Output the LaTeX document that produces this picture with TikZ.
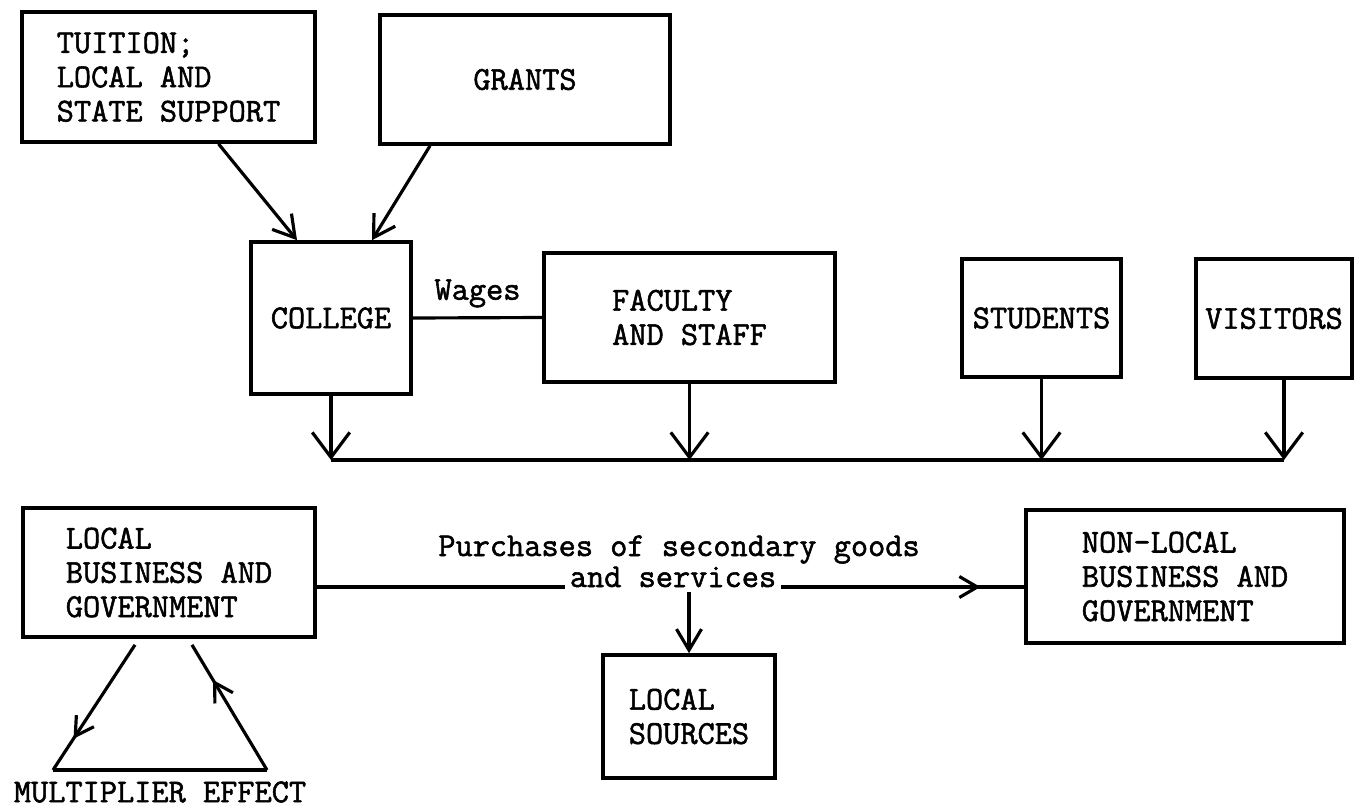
\documentclass[tikz,border=0pt]{standalone}
\usepackage{fontspec}
\setmonofont{Latin Modern Mono}[FakeBold=1.6]
\usetikzlibrary{arrows.meta,decorations.markings}

\begin{document}
\begin{tikzpicture}[x=0.02cm,y=-0.02cm,line width=1.8pt,
  font=\fontsize{19}{19.5}\selectfont\ttfamily]
\tikzstyle block=[draw,line width=2.1pt,align=left,inner sep=0pt]
\tikzstyle tag=[inner sep=2pt]
\tikzstyle bigtip=[-{Straight Barb[length=0.5cm,width=0.75cm]}]
\tikzstyle smalltip=[-{Straight Barb[length=0.42cm,width=0.5cm]}]
\tikzset{directed/.style={postaction={decorate,decoration={markings,
    mark=at position #1 with {\arrow{Straight Barb[length=0.36cm,width=0.42cm]}}}}}}
 \useasboundingbox (0,0) rectangle (1354,808);
 % sources of money
 \node[block,minimum width=5.86cm,minimum height=2.6cm] (tuition) at (168.5,77) {TUITION;\\LOCAL AND\\STATE SUPPORT};
 \node[block,minimum width=5.8cm,minimum height=2.58cm] (grants) at (525,79.5) {GRANTS};
 % spenders
 \node[block,minimum width=3.2cm,minimum height=3.04cm] (college) at (331,318) {COLLEGE};
 \node[block,minimum width=5.82cm,minimum height=2.58cm] (faculty) at (689.5,317.5) {FACULTY\\AND STAFF};
 \node[block,minimum width=3.18cm,minimum height=2.36cm] (students) at (1041.5,318) {STUDENTS};
 \node[block,minimum width=3.12cm,minimum height=2.38cm] (visitors) at (1274,318.5) {VISITORS};
 % receivers
 \node[block,minimum width=5.84cm,minimum height=2.58cm] (localbus) at (169,572.5) {LOCAL\\BUSINESS AND\\GOVERNMENT};
 \node[block,minimum width=6.36cm,minimum height=2.66cm] (nonlocal) at (1185,576.5) {NON-LOCAL\\BUSINESS AND\\GOVERNMENT};
 \node[block,minimum width=3.44cm,minimum height=2.46cm] (sources) at (689,716.5) {LOCAL\\SOURCES};
 \node[tag,anchor=base] (purch) at (679,556) {Purchases of secondary goods};
 \node[tag,anchor=base] (svc) at (673,587) {and services};
 \node[tag] (mult) at (160,792) {MULTIPLIER EFFECT};
 \coordinate (bus) at (0,460);
 \coordinate (mtopl) at ([xshift=-0.68cm,yshift=-0.12cm]localbus.south);
 \coordinate (mtopr) at ([xshift=0.46cm,yshift=-0.12cm]localbus.south);
 \coordinate (mbotl) at (53,770);
 \coordinate (mbotr) at (267,770);

 \draw[smalltip] ([xshift=1cm]tuition.south) -- ([xshift=-0.68cm]college.north);
 \draw[smalltip] ([xshift=-1.9cm]grants.south) -- ([xshift=0.82cm]college.north);
 \draw (college.east) -- node[tag,above=3pt] {Wages} (faculty.west);
 \draw[bigtip] (college.south) -- (college.south |- bus);
 \draw[bigtip] (faculty.south) -- (faculty.south |- bus);
 \draw[bigtip] (students.south) -- (students.south |- bus);
 \draw[bigtip] ([xshift=0.2cm]visitors.south) -- ([xshift=0.2cm]visitors.south |- bus);
 \draw (college.south |- bus) -- ([xshift=0.2cm]visitors.south |- bus);

 \draw (localbus.east |- svc.base) -- (svc.base west);
 \draw[directed=0.82] (svc.base east) -- (nonlocal.west |- svc.base);
 \draw[smalltip] (sources.north |- svc.south) -- (sources.north);

 \draw[directed=0.75] (mtopl) -- (mbotl);
 \draw (mbotl) -- (mbotr);
 \draw[directed=0.72] (mbotr) -- (mtopr);
\end{tikzpicture}
\end{document}
